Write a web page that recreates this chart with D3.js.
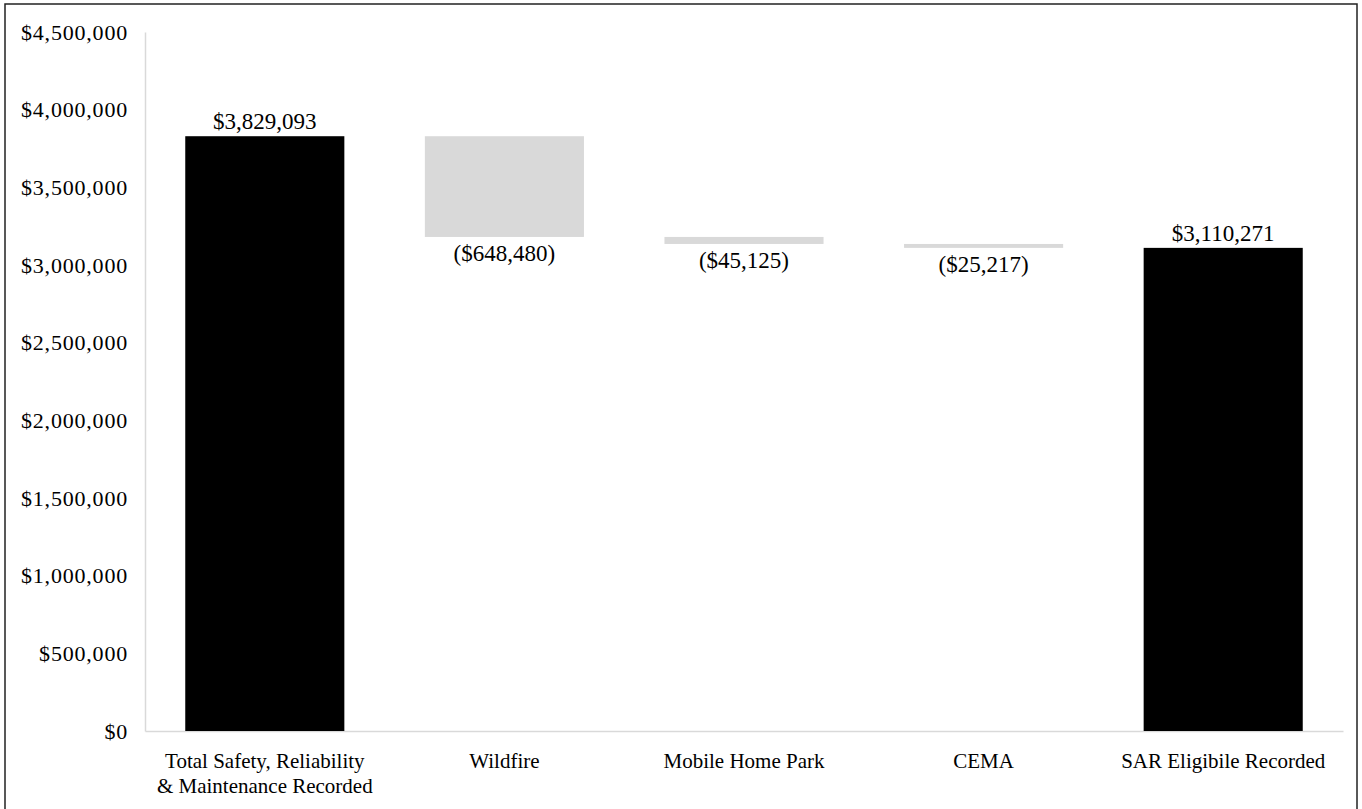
<!DOCTYPE html>
<html>
<head>
<meta charset="utf-8">
<script src="https://cdn.jsdelivr.net/npm/d3@7"></script>
<style>
  html, body { margin: 0; padding: 0; background: #fff; }
  svg { display: block; }
  text { font-family: "Liberation Serif", "Times New Roman", serif; fill: #000; }
</style>
</head>
<body>
<svg id="chart" width="1362" height="809"></svg>
<script>
// Waterfall: recorded total, deductions, and the resulting eligible amount
const categories = [
  ["Total Safety, Reliability", "& Maintenance Recorded"],
  ["Wildfire"],
  ["Mobile Home Park"],
  ["CEMA"],
  ["SAR Eligibile Recorded"]
];
const amounts = [3829093, -648480, -45125, -25217, 3110271];
const isTotal = [true, false, false, false, true];
const yTicks = [0, 500000, 1000000, 1500000, 2000000, 2500000, 3000000, 3500000, 4000000, 4500000];

const svg = d3.select("#chart");
const W = 1362, H = 809;
const plot = { left: 145, right: 1343, top: 32, bottom: 731 };

// outer frame
svg.append("rect")
  .attr("x", 5).attr("y", 4)
  .attr("width", 1352).attr("height", H + 10)
  .attr("fill", "none").attr("stroke", "#222").attr("stroke-width", 1.5);

const x = d3.scaleBand()
  .domain(d3.range(categories.length))
  .range([plot.left, plot.right])
  .paddingInner(0.336).paddingOuter(0.168);

const y = d3.scaleLinear().domain([0, 4500000]).range([plot.bottom, plot.top]);

// running start/end for each step
let running = 0;
const steps = amounts.map((v, i) => {
  let lo, hi;
  if (isTotal[i]) { lo = 0; hi = v; running = v; }
  else { const start = running; running = start + v; lo = Math.min(start, running); hi = Math.max(start, running); }
  return { i, v, lo, hi, total: isTotal[i] };
});

const fmt = d3.format(",");
const money = v => v < 0 ? "($" + fmt(-v) + ")" : "$" + fmt(v);

// y axis
const yAxis = d3.axisLeft(y).tickValues(yTicks).tickSize(0).tickPadding(17)
  .tickFormat(d => "$" + fmt(d));
const gy = svg.append("g").attr("transform", `translate(${plot.left},0)`).call(yAxis);
gy.select(".domain").attr("stroke", "#d9d9d9").attr("stroke-width", 1.5);
gy.selectAll(".tick text")
  .attr("font-size", 22).attr("letter-spacing", 0.8)
  .attr("font-family", "Liberation Serif").attr("fill", "#000").attr("dy", "0.32em");

// x axis
const xAxis = d3.axisBottom(x).tickSize(0).tickFormat("");
const gx = svg.append("g").attr("transform", `translate(0,${plot.bottom})`).call(xAxis);
gx.select(".domain").attr("stroke", "#d9d9d9").attr("stroke-width", 1.5);
gx.selectAll(".tick").each(function(d) {
  const t = d3.select(this).append("text")
    .attr("text-anchor", "middle").attr("font-size", 21)
    .attr("font-family", "Liberation Serif").attr("fill", "#000");
  categories[d].forEach((line, k) => {
    t.append("tspan").attr("x", 0).attr("y", 37 + k * 25).text(line);
  });
});

// bars
svg.append("g").selectAll("rect").data(steps).join("rect")
  .attr("x", d => x(d.i))
  .attr("width", x.bandwidth())
  .attr("y", d => y(d.hi))
  .attr("height", d => y(d.lo) - y(d.hi))
  .attr("fill", d => d.total ? "#000" : "#d9d9d9");

// value labels
svg.append("g").selectAll("text").data(steps).join("text")
  .attr("x", d => x(d.i) + x.bandwidth() / 2)
  .attr("y", d => d.total ? y(d.hi) - 7 : y(d.lo) + 24)
  .attr("text-anchor", "middle")
  .attr("font-size", 23)
  .text(d => money(d.v));
</script>
</body>
</html>
